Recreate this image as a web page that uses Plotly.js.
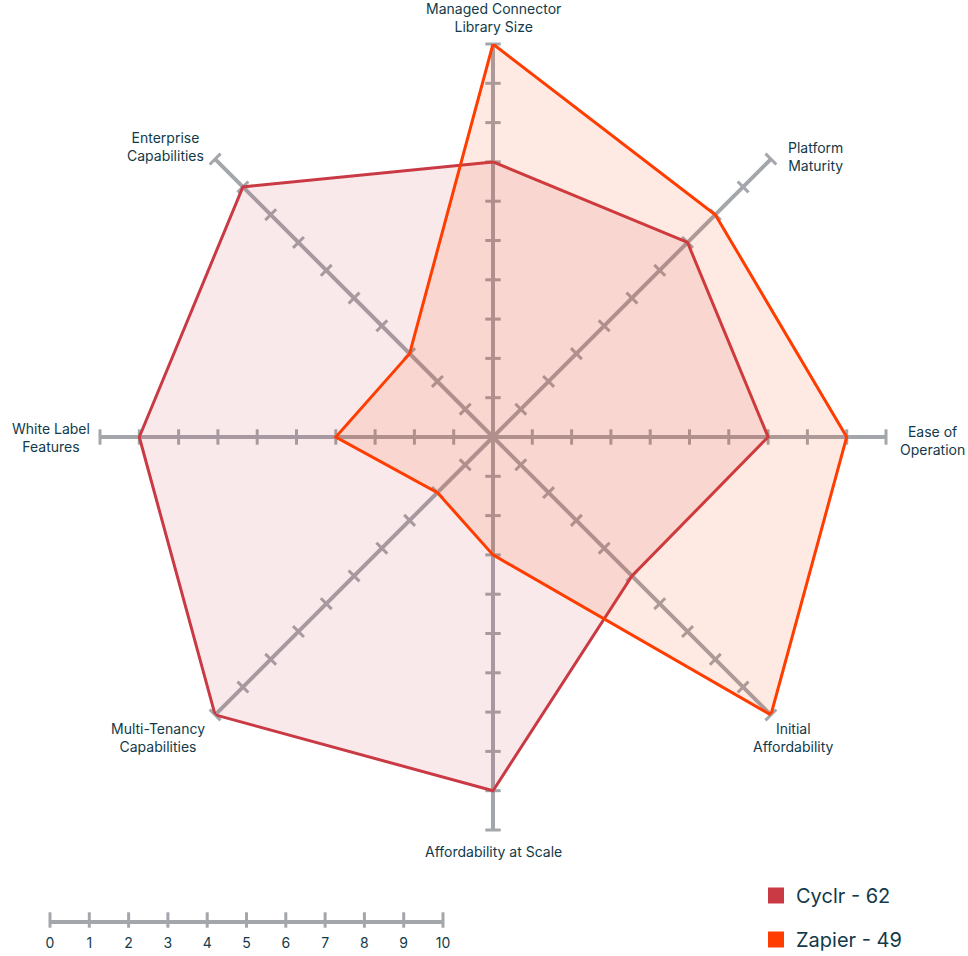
<!DOCTYPE html>
<html>
<head>
<meta charset="utf-8">
<script src="https://cdn.plot.ly/plotly-3.0.1.min.js"></script>
<style>
  html, body { margin: 0; padding: 0; background: #fff; }
  #chart { width: 968px; height: 956px; }
</style>
</head>
<body>
<div id="chart"></div>
<script>
// ---- data ----
const CATEGORIES = [
  'Managed Connector Library Size', 'Platform Maturity', 'Ease of Operation',
  'Initial Affordability', 'Affordability at Scale', 'Multi-Tenancy Capabilities',
  'White Label Features', 'Enterprise Capabilities'
];
const CATEGORY_LABELS = [
  'Managed Connector<br>Library Size', 'Platform<br>Maturity', 'Ease of<br>Operation',
  'Initial<br>Affordability', 'Affordability at Scale', 'Multi-Tenancy<br>Capabilities',
  'White Label<br>Features', 'Enterprise<br>Capabilities'
];
const CYCLR = [7, 7, 7, 5, 9, 10, 9, 9];
const ZAPIER = [10, 8, 9, 10, 3, 2, 4, 3];
const SERIES_NAMES = ['Cyclr - 62', 'Zapier - 49'];
const SCALE_TICKS = [0, 1, 2, 3, 4, 5, 6, 7, 8, 9, 10];

// ---- styling ----
const W = 968, H = 956;
const CX = 493, CY = 437, R = 393;   // radar centre and radius in px
const SCALE_Y = 920;                 // y of the scale bar line
const GREY = '#a3a6ab';
const TEXT = '#123a4a';
const COLORS = { cyclr: '#c93a44', zapier: '#ff3d00' };
const FILLS = { cyclr: 'rgba(201,58,68,0.11)', zapier: 'rgba(255,61,0,0.11)' };
const FONT = 'Inter, "Noto Sans", sans-serif';

// label placement relative to each spoke end: [dx, dy, xanchor, yanchor]
const LABEL_OFFSETS = [
  [0, -7, 'center', 'bottom'],
  [15, -3, 'left', 'middle'],
  [12, 4, 'left', 'middle'],
  [23, 3, 'center', 'top'],
  [0, 11, 'center', 'top'],
  [-57, 3, 'center', 'top'],
  [-8, 0, 'right', 'middle'],
  [-9, -13, 'right', 'middle']
];

function closed(arr) { return arr.concat([arr[0]]); }

// tick marks along every spoke
const spokeR = [], spokeT = [], spokeA = [];
const maxVal = SCALE_TICKS[SCALE_TICKS.length - 1];
CATEGORIES.forEach((c, i) => {
  SCALE_TICKS.slice(1).forEach(v => {
    spokeR.push(v);
    spokeT.push(c);
    spokeA.push(i * 360 / CATEGORIES.length);
  });
});

const traces = [
  {
    type: 'scatterpolar', r: spokeR, theta: spokeT, mode: 'markers',
    marker: { symbol: 'line-ew', size: 11, angle: spokeA, line: { color: GREY, width: 3 } },
    hoverinfo: 'skip', showlegend: false, cliponaxis: false
  },
  {
    type: 'scatterpolar', r: closed(CYCLR), theta: closed(CATEGORIES), mode: 'lines',
    fill: 'toself', fillcolor: FILLS.cyclr,
    line: { color: COLORS.cyclr, width: 3 },
    name: SERIES_NAMES[0], legendgroup: 'c', showlegend: false, cliponaxis: false
  },
  {
    type: 'scatterpolar', r: closed(ZAPIER), theta: closed(CATEGORIES), mode: 'lines',
    fill: 'toself', fillcolor: FILLS.zapier,
    line: { color: COLORS.zapier, width: 3 },
    name: SERIES_NAMES[1], legendgroup: 'z', showlegend: false, cliponaxis: false
  },
  // legend entries
  {
    type: 'scatterpolar', r: [null], theta: [CATEGORIES[0]], mode: 'markers',
    marker: { symbol: 'square', size: 18, color: COLORS.cyclr },
    name: SERIES_NAMES[0], legendgroup: 'c'
  },
  {
    type: 'scatterpolar', r: [null], theta: [CATEGORIES[0]], mode: 'markers',
    marker: { symbol: 'square', size: 18, color: COLORS.zapier },
    name: SERIES_NAMES[1], legendgroup: 'z'
  },
  // scale bar ticks
  {
    type: 'scatter', x: SCALE_TICKS, y: SCALE_TICKS.map(() => 0), mode: 'markers',
    xaxis: 'x', yaxis: 'y',
    marker: { symbol: 'line-ns', size: 11, line: { color: GREY, width: 3 } },
    hoverinfo: 'skip', showlegend: false, cliponaxis: false
  }
];

// category labels around the radar
const annotations = CATEGORY_LABELS.map((lab, i) => {
  const a = i * 2 * Math.PI / CATEGORIES.length;
  const ex = CX + R * Math.sin(a), ey = CY - R * Math.cos(a);
  const o = LABEL_OFFSETS[i];
  return {
    xref: 'paper', yref: 'paper',
    x: (ex + o[0]) / W, y: 1 - (ey + o[1]) / H,
    xanchor: o[2], yanchor: o[3], align: 'center',
    text: lab, showarrow: false,
    font: { family: FONT, size: 14, color: TEXT }
  };
});

const layout = {
  width: W, height: H,
  margin: { l: 0, r: 0, t: 0, b: 0, autoexpand: false },
  paper_bgcolor: '#fff', plot_bgcolor: 'rgba(0,0,0,0)',
  font: { family: FONT, color: TEXT },
  polar: {
    domain: { x: [(CX - R) / W, (CX + R) / W], y: [(H - CY - R) / H, (H - CY + R) / H] },
    bgcolor: 'rgba(0,0,0,0)',
    angularaxis: {
      type: 'category', categoryarray: CATEGORIES, direction: 'clockwise', rotation: 90,
      showline: false, ticks: '', showticklabels: false,
      showgrid: true, gridcolor: GREY, gridwidth: 4
    },
    radialaxis: { range: [0, maxVal], visible: false, showgrid: false }
  },
  xaxis: {
    domain: [50 / W, 443 / W], range: [0, maxVal], anchor: 'y', automargin: false,
    showline: true, linecolor: GREY, linewidth: 4,
    showgrid: false, zeroline: false, fixedrange: true,
    tickvals: SCALE_TICKS, ticks: 'outside', ticklen: 7, tickcolor: 'rgba(0,0,0,0)',
    tickfont: { family: FONT, size: 14, color: TEXT }
  },
  yaxis: {
    domain: [(H - SCALE_Y) / H, (H - SCALE_Y + 15) / H], range: [0, 1], anchor: 'x',
    visible: false, fixedrange: true, automargin: false
  },
  showlegend: true,
  legend: {
    x: 756 / W, y: 1 - 876 / H, xanchor: 'left', yanchor: 'top',
    bgcolor: 'rgba(0,0,0,0)', tracegroupgap: 15, itemsizing: 'trace',
    font: { family: FONT, size: 20, color: TEXT }
  },
  annotations: annotations
};

Plotly.newPlot('chart', traces, layout, { displayModeBar: false, staticPlot: true });
</script>
</body>
</html>
